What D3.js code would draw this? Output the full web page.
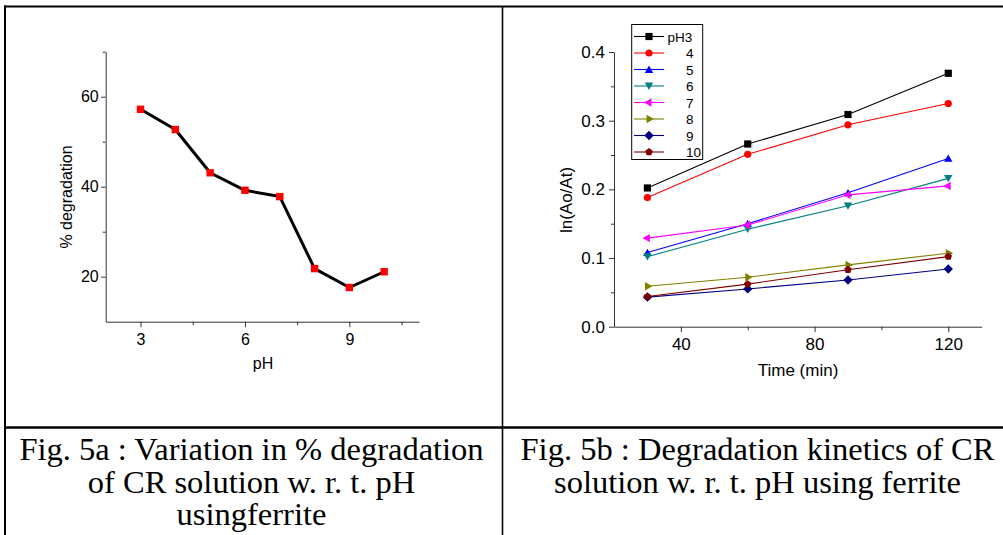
<!DOCTYPE html>
<html>
<head>
<meta charset="utf-8">
<script src="https://cdn.jsdelivr.net/npm/d3@7/dist/d3.min.js"></script>
<style>
  body { margin: 0; background: #fff; }
  svg { display: block; }
  .axis path, .axis line { stroke: #333; }
  .axis text { fill: #000; font-family: "Liberation Sans", Arial, sans-serif; }
  .caption { font-family: "Liberation Serif", "Times New Roman", serif; fill: #000; }
</style>
</head>
<body>
<svg id="fig" width="1003" height="535"></svg>
<script>
// ---- Fig. 5a data ----
const pH = [3, 4, 5, 6, 7, 8, 9, 10];
const degradation = [57.2, 52.7, 43.1, 39.2, 37.8, 21.8, 17.6, 21.1];
const phTicks = [3, 6, 9];
const phMinor = [4.5, 7.5, 10.5];
const degTicks = [20, 40, 60];
const degMinor = [30, 50, 70];

// ---- Fig. 5b data ----
const times = [30, 60, 90, 120];
const seriesNames = ["pH3", "4", "5", "6", "7", "8", "9", "10"];
const ln_pH3 = [0.202, 0.266, 0.309, 0.369];
const ln_pH4 = [0.188, 0.251, 0.294, 0.325];
const ln_pH5 = [0.108, 0.150, 0.195, 0.245];
const ln_pH6 = [0.102, 0.142, 0.176, 0.216];
const ln_pH7 = [0.129, 0.148, 0.192, 0.205];
const ln_pH8 = [0.059, 0.072, 0.090, 0.107];
const ln_pH9 = [0.043, 0.055, 0.068, 0.084];
const ln_pH10 = [0.044, 0.062, 0.083, 0.102];
const timeTicks = [40, 80, 120];
const timeMinor = [60, 100];
const lnTicks = [0, 0.1, 0.2, 0.3, 0.4];
const lnMinor = [0.05, 0.15, 0.25, 0.35];

const seriesColors = ["#000000", "#ff0000", "#0000ff", "#008080", "#ff00ff", "#808000", "#000080", "#800000"];
const seriesSymbols = ["square", "circle", "up", "down", "left", "right", "diamond", "pentagon"];

const svg = d3.select("#fig");

// table borders
const frame = svg.append("g").attr("stroke", "#000").attr("fill", "none");
frame.append("line").attr("x1", 4).attr("x2", 1003).attr("y1", 6.5).attr("y2", 6.5).attr("stroke-width", 2);
frame.append("line").attr("x1", 5).attr("x2", 5).attr("y1", 5.5).attr("y2", 535).attr("stroke-width", 2);
frame.append("line").attr("x1", 502.5).attr("x2", 502.5).attr("y1", 6).attr("y2", 535).attr("stroke-width", 1.6);
frame.append("line").attr("x1", 4).attr("x2", 1003).attr("y1", 427.5).attr("y2", 427.5).attr("stroke-width", 2.4);

// marker shapes
function symbolPath(kind, r) {
  const pts = [];
  if (kind === "circle") {
    return d3.arc()({ innerRadius: 0, outerRadius: r, startAngle: 0, endAngle: 2 * Math.PI });
  }
  if (kind === "square") return `M${-r},${-r}H${r}V${r}H${-r}Z`;
  if (kind === "diamond") { const d = r * 1.3; return `M0,${-d}L${d},0L0,${d}L${-d},0Z`; }
  let n = 3, rot = 0, rr = r * 1.35;
  if (kind === "up") rot = -90;
  if (kind === "down") rot = 90;
  if (kind === "left") rot = 180;
  if (kind === "right") rot = 0;
  if (kind === "pentagon") { n = 5; rot = -90; rr = r * 1.1; }
  for (let i = 0; i < n; i++) {
    const a = (rot + i * 360 / n) * Math.PI / 180;
    pts.push([rr * Math.cos(a), rr * Math.sin(a) + (n === 3 && (kind === "up" || kind === "down") ? (kind === "up" ? rr * 0.2 : -rr * 0.2) : 0)]);
  }
  return "M" + pts.map(p => p.join(",")).join("L") + "Z";
}

// ================= Fig. 5a =================
const xa = d3.scaleLinear().domain([2, 11]).range([105.7, 419]);
const ya = d3.scaleLinear().domain([10, 70]).range([321.7, 51.7]);

const ga = svg.append("g");
ga.append("g").attr("class", "axis").attr("transform", "translate(0,321.7)")
  .call(d3.axisBottom(xa).tickValues(phTicks).tickSize(5.5).tickPadding(6).tickSizeOuter(0))
  .call(g => g.selectAll("text").attr("font-size", 16));
ga.append("g").attr("class", "axis").attr("transform", "translate(0,321.7)")
  .call(d3.axisBottom(xa).tickValues(phMinor).tickSize(3.5).tickFormat("").tickSizeOuter(0))
  .call(g => g.select(".domain").remove());
ga.append("g").attr("class", "axis").attr("transform", "translate(105.7,0)")
  .call(d3.axisLeft(ya).tickValues(degTicks).tickSize(4.5).tickPadding(2.5).tickSizeOuter(0))
  .call(g => g.selectAll("text").attr("font-size", 16));
ga.append("g").attr("class", "axis").attr("transform", "translate(105.7,0)")
  .call(d3.axisLeft(ya).tickValues(degMinor).tickSize(3).tickFormat("").tickSizeOuter(0))
  .call(g => g.select(".domain").remove());

ga.append("path")
  .datum(pH.map((p, i) => [p, degradation[i]]))
  .attr("fill", "none").attr("stroke", "#000").attr("stroke-width", 3).attr("stroke-linejoin", "round")
  .attr("d", d3.line().x(d => xa(d[0])).y(d => ya(d[1])));
ga.selectAll(".pt").data(pH).join("path")
  .attr("transform", (p, i) => `translate(${xa(p)},${ya(degradation[i])})`)
  .attr("d", symbolPath("square", 3.7)).attr("fill", "#ff0000");

ga.append("text").attr("x", 263).attr("y", 369).attr("text-anchor", "middle")
  .attr("font-family", "Liberation Sans, Arial, sans-serif").attr("font-size", 16).text("pH");
ga.append("text").attr("transform", "translate(72,197) rotate(-90)").attr("text-anchor", "middle")
  .attr("font-family", "Liberation Sans, Arial, sans-serif").attr("font-size", 16).text("% degradation");

// ================= Fig. 5b =================
const xb = d3.scaleLinear().domain([20, 130]).range([614, 981.7]);
const yb = d3.scaleLinear().domain([0, 0.4]).range([326.7, 52]);
const seriesValues = [ln_pH3, ln_pH4, ln_pH5, ln_pH6, ln_pH7, ln_pH8, ln_pH9, ln_pH10];

const gb = svg.append("g");
gb.append("g").attr("class", "axis").attr("transform", "translate(0,326.7)")
  .call(d3.axisBottom(xb).tickValues(timeTicks).tickSize(5.5).tickPadding(6).tickSizeOuter(0))
  .call(g => g.selectAll("text").attr("font-size", 17));
gb.append("g").attr("class", "axis").attr("transform", "translate(0,326.7)")
  .call(d3.axisBottom(xb).tickValues(timeMinor).tickSize(3.5).tickFormat("").tickSizeOuter(0))
  .call(g => g.select(".domain").remove());
gb.append("g").attr("class", "axis").attr("transform", "translate(614,0)")
  .call(d3.axisLeft(yb).tickValues(lnTicks).tickFormat(d3.format(".1f")).tickSize(5).tickPadding(4).tickSizeOuter(0))
  .call(g => g.selectAll("text").attr("font-size", 17));
gb.append("g").attr("class", "axis").attr("transform", "translate(614,0)")
  .call(d3.axisLeft(yb).tickValues(lnMinor).tickSize(3).tickFormat("").tickSizeOuter(0))
  .call(g => g.select(".domain").remove());

const lineB = d3.line().x((d, i) => xb(times[i])).y(d => yb(d));
seriesValues.forEach((vals, s) => {
  gb.append("path").datum(vals)
    .attr("fill", "none").attr("stroke", seriesColors[s]).attr("stroke-width", 1.1)
    .attr("d", lineB);
  gb.selectAll(null).data(vals).join("path")
    .attr("transform", (d, i) => `translate(${xb(times[i])},${yb(d)})`)
    .attr("d", symbolPath(seriesSymbols[s], 3.6)).attr("fill", seriesColors[s]);
});

gb.append("text").attr("x", 798).attr("y", 376).attr("text-anchor", "middle")
  .attr("font-family", "Liberation Sans, Arial, sans-serif").attr("font-size", 17).text("Time (min)");
gb.append("text").attr("transform", "translate(572,200) rotate(-90)").attr("text-anchor", "middle")
  .attr("font-family", "Liberation Sans, Arial, sans-serif").attr("font-size", 17).text("ln(Ao/At)");

// legend
const leg = gb.append("g");
leg.append("rect").attr("x", 631.7).attr("y", 24.5).attr("width", 71).attr("height", 135)
  .attr("fill", "#fff").attr("stroke", "#000").attr("stroke-width", 1);
seriesNames.forEach((name, s) => {
  const yy = 36.5 + s * 16.5;
  leg.append("line").attr("x1", 634).attr("x2", 664).attr("y1", yy).attr("y2", yy)
    .attr("stroke", seriesColors[s]).attr("stroke-width", 1.1);
  leg.append("path").attr("transform", `translate(649,${yy})`)
    .attr("d", symbolPath(seriesSymbols[s], 3.6)).attr("fill", seriesColors[s]);
  leg.append("text").attr("x", s === 0 ? 667.5 : 686).attr("y", yy + 5)
    .attr("font-family", "Liberation Sans, Arial, sans-serif").attr("font-size", 13.5).text(name);
});

// ================= captions =================
const capLeft = ["Fig. 5a : Variation in % degradation", "of CR solution w. r. t. pH", "usingferrite"];
const capRight = ["Fig. 5b : Degradation kinetics of CR", "solution w. r. t. pH using ferrite"];
const capBase = [460, 492.5, 525];
capLeft.forEach((t, i) => {
  svg.append("text").attr("class", "caption").attr("x", 251.5).attr("y", capBase[i])
    .attr("text-anchor", "middle").attr("font-size", 32.5).text(t);
});
capRight.forEach((t, i) => {
  svg.append("text").attr("class", "caption").attr("x", 757.5).attr("y", capBase[i])
    .attr("text-anchor", "middle").attr("font-size", 32.5).text(t);
});
</script>
</body>
</html>
